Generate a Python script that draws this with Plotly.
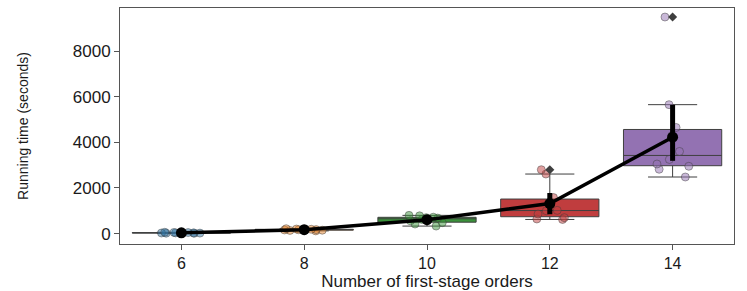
import numpy as np
import plotly.graph_objects as go

# ---- data ----
categories = ["6", "8", "10", "12", "14"]
run_6 = [12, 18, 22, 27, 31, 35, 41, 46, 52, 58]
run_8 = [120, 140, 150, 160, 170, 175, 185, 190, 200, 215]
run_10 = [330, 420, 480, 560, 620, 680, 700, 720, 780, 800]
run_12 = [620, 640, 700, 860, 1000, 1020, 1320, 1580, 2610, 2800]
run_14 = [2480, 2820, 2950, 3050, 3250, 3600, 4300, 4650, 5650, 9490]
ci_low = [22, 158, 520, 850, 3190]
ci_high = [45, 185, 700, 1780, 5640]
y_ticks = [0, 2000, 4000, 6000, 8000]

samples = [run_6, run_8, run_10, run_12, run_14]

# ---- style ----
box_colors = ["#3274a1", "#e1812c", "#3a923a", "#c03d3e", "#9372b2"]
point_colors = ["rgba(50,116,161,0.5)", "rgba(225,129,44,0.5)", "rgba(58,146,58,0.5)",
                "rgba(192,61,62,0.5)", "rgba(147,114,178,0.5)"]
edge = "#3f3f3f"
FONT = "Liberation Sans, Arial, sans-serif"

fig = go.Figure()

means = []
for i, vals in enumerate(samples):
    v = np.array(vals, dtype=float)
    q1, med, q3 = np.percentile(v, [25, 50, 75])
    iqr = q3 - q1
    lo_lim, hi_lim = q1 - 1.5 * iqr, q3 + 1.5 * iqr
    inside = v[(v >= lo_lim) & (v <= hi_lim)]
    outl = v[(v < lo_lim) | (v > hi_lim)]
    means.append(float(v.mean()))
    fig.add_trace(go.Box(
        x=[i], q1=[q1], median=[med], q3=[q3],
        lowerfence=[inside.min()], upperfence=[inside.max()],
        width=0.8, whiskerwidth=0.5, boxpoints=False,
        fillcolor=box_colors[i], line=dict(color=edge, width=1),
        showlegend=False, hoverinfo="skip",
    ))
    if len(outl):
        fig.add_trace(go.Scatter(
            x=[i] * len(outl), y=outl, mode="markers",
            marker=dict(symbol="diamond", size=7, color=edge),
            showlegend=False, hoverinfo="skip",
        ))
    # strip points (invisible box, library jitter)
    fig.add_trace(go.Box(
        x=[i] * len(vals), y=vals, width=0.8,
        boxpoints="all", jitter=0.5, pointpos=0,
        fillcolor="rgba(0,0,0,0)", line=dict(color="rgba(0,0,0,0)", width=0),
        marker=dict(size=8, color=point_colors[i],
                    line=dict(color="rgba(60,60,60,0.45)", width=1)),
        showlegend=False, hoverinfo="skip",
    ))

means = np.array(means)
fig.add_trace(go.Scatter(
    x=list(range(len(categories))), y=means, mode="lines+markers",
    line=dict(color="black", width=3.5),
    marker=dict(size=11, color="black"),
    error_y=dict(type="data", symmetric=False,
                 array=np.array(ci_high) - means,
                 arrayminus=means - np.array(ci_low),
                 color="black", thickness=5, width=0),
    showlegend=False, hoverinfo="skip",
))

fig.update_layout(
    width=747, height=291,
    margin=dict(l=120, r=13, t=7, b=41),
    plot_bgcolor="white", paper_bgcolor="white",
    font=dict(family=FONT, color="#1a1a1a", size=17),
    boxmode="overlay",
)
fig.update_xaxes(
    range=[-0.5, 4.5], tickvals=list(range(len(categories))), ticktext=categories,
    showline=True, linecolor="#555555", linewidth=1, mirror=True,
    ticks="outside", ticklen=5, tickcolor="#555555", showgrid=False, zeroline=False,
    tickfont=dict(size=16),
    title=dict(text="Number of first-stage orders", font=dict(size=17), standoff=0),
)
fig.update_yaxes(
    range=[-455, 9885], tickvals=y_ticks,
    showline=True, linecolor="#555555", linewidth=1, mirror=True,
    ticks="outside", ticklen=5, tickcolor="#555555", showgrid=False, zeroline=False,
    tickfont=dict(size=17),
    title=dict(text="Running time (seconds)", font=dict(size=14), standoff=40),
)

fig.write_html("out.html", config={"displayModeBar": False},
               post_script="document.body.style.margin='0px';")
